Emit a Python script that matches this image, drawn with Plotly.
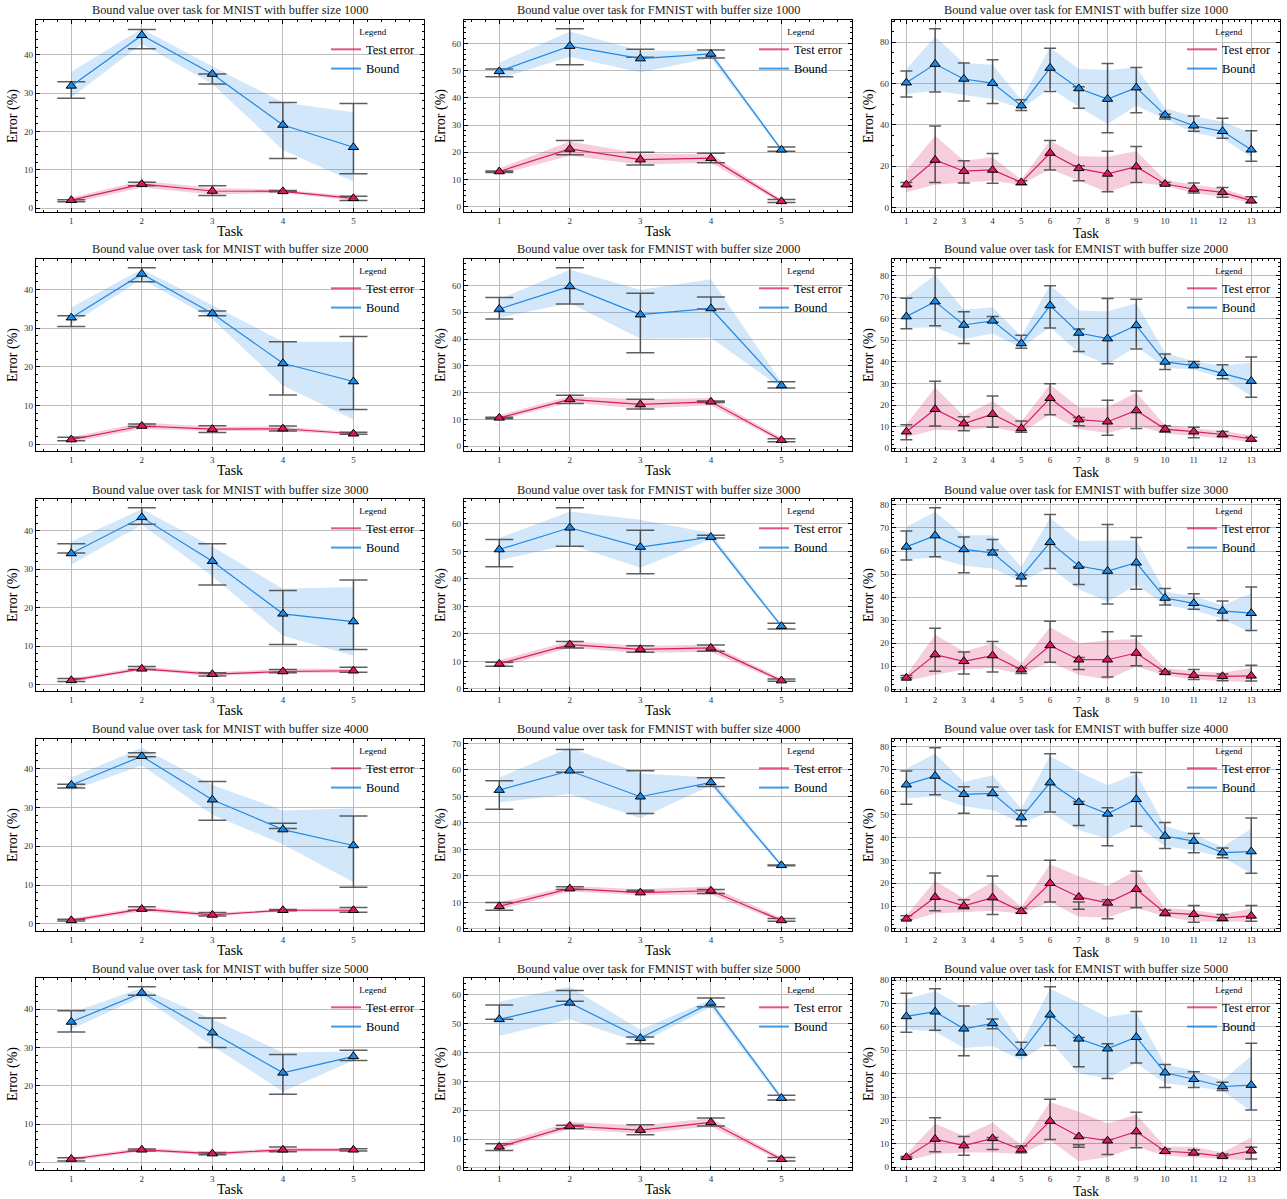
import plotly.graph_objects as go

# ---------------------------------------------------------------------------
# Data: error (%) per task, one row per replay-buffer size
# ---------------------------------------------------------------------------
BUFFER_SIZES = [1000, 2000, 3000, 4000, 5000]
DATASETS = ["MNIST", "FMNIST", "EMNIST"]
TASKS_MNIST = [1, 2, 3, 4, 5]
TASKS_FMNIST = [1, 2, 3, 4, 5]
TASKS_EMNIST = [1, 2, 3, 4, 5, 6, 7, 8, 9, 10, 11, 12, 13]
Y_TICK_STEP = {"MNIST": [10, 10, 10, 10, 10],
               "FMNIST": [10, 10, 10, 10, 10],
               "EMNIST": [20, 10, 10, 10, 10]}

# ---- MNIST ----------------------------------------------------------------
mnist_test_mean = [[2.1, 6.3, 4.5, 4.4, 2.6], [1.2, 4.7, 3.9, 4.0, 2.7], [1.1, 4.1, 2.7, 3.4, 3.6],
                   [0.9, 3.8, 2.3, 3.5, 3.5], [0.9, 3.3, 2.3, 3.3, 3.3]]
mnist_test_band_lo = [[1.3, 5.4, 3.6, 4.0, 2.0], [0.5, 3.9, 3.4, 3.4, 2.4], [0.6, 3.7, 2.2, 3.0, 3.1],
                      [0.4, 3.2, 1.9, 3.2, 3.0], [0.3, 2.9, 1.8, 2.8, 2.9]]
mnist_test_band_hi = [[2.8, 7.2, 5.3, 4.8, 3.2], [1.8, 5.6, 4.5, 4.6, 3.1], [1.6, 4.7, 3.2, 4.1, 4.1],
                      [1.4, 4.4, 2.8, 3.8, 4.1], [1.3, 3.9, 2.7, 3.8, 3.8]]
mnist_test_bar_lo = [[1.7, 5.9, 3.3, 4.3, 2.0], [0.9, 4.6, 3.0, 3.4, 2.6], [0.8, 3.9, 2.2, 3.1, 3.2],
                     [0.7, 3.5, 2.0, 3.4, 3.0], [0.4, 3.0, 2.0, 2.8, 3.0]]
mnist_test_bar_hi = [[2.2, 6.8, 5.9, 4.6, 3.1], [1.8, 5.2, 4.8, 4.7, 3.1], [1.6, 4.7, 3.1, 3.9, 4.5],
                     [1.2, 4.4, 2.9, 3.7, 4.2], [1.2, 3.5, 2.6, 4.0, 3.6]]
mnist_bound_mean = [[31.9, 45.1, 35.0, 21.7, 15.9], [32.7, 44.0, 33.8, 20.9, 16.2], [34.1, 43.5, 32.1, 18.4, 16.4],
                    [35.8, 43.2, 32.0, 24.3, 20.2], [36.7, 44.3, 33.9, 23.4, 27.7]]
mnist_bound_band_lo = [[28.9, 42.8, 32.4, 15.2, 7.0], [31.0, 42.7, 32.3, 15.2, 6.4], [31.2, 41.6, 28.2, 12.7, 7.5],
                       [34.3, 40.9, 28.1, 20.5, 10.7], [34.8, 43.3, 30.5, 18.5, 26.6]]
mnist_bound_band_hi = [[35.6, 46.8, 37.0, 27.6, 25.0], [35.3, 45.3, 35.9, 26.5, 26.5], [37.2, 45.6, 35.9, 24.9, 25.4],
                       [37.7, 45.4, 35.8, 29.2, 29.8], [39.1, 45.6, 37.4, 28.7, 29.0]]
mnist_bound_bar_lo = [[28.7, 41.6, 32.4, 13.0, 9.0], [30.4, 42.0, 33.2, 12.7, 9.0], [34.2, 41.7, 25.9, 10.4, 9.1],
                      [35.0, 43.1, 26.7, 24.6, 9.4], [34.1, 43.7, 30.0, 17.8, 26.6]]
mnist_bound_bar_hi = [[33.0, 46.6, 35.0, 27.6, 27.3], [33.2, 45.6, 34.4, 26.5, 27.8], [36.6, 46.0, 36.6, 24.5, 27.2],
                      [36.0, 44.1, 36.7, 25.9, 27.8], [39.6, 45.9, 37.7, 28.2, 29.3]]

# ---- FMNIST ---------------------------------------------------------------
fmnist_test_mean = [[12.9, 21.2, 17.3, 17.8, 1.9], [10.6, 17.5, 15.6, 16.6, 2.3], [9.1, 16.1, 14.4, 14.9, 3.0],
                    [8.5, 15.2, 13.7, 14.4, 3.2], [7.3, 14.5, 13.1, 15.8, 3.0]]
fmnist_test_band_lo = [[11.9, 18.7, 15.5, 16.1, 1.2], [9.7, 16.3, 14.0, 15.3, 1.5], [8.0, 14.9, 13.1, 13.4, 2.4],
                       [7.2, 14.1, 12.7, 13.0, 2.5], [6.3, 13.5, 11.8, 14.4, 2.3]]
fmnist_test_band_hi = [[14.1, 24.0, 19.5, 19.3, 2.7], [11.6, 18.7, 17.5, 18.0, 3.2], [10.4, 17.4, 15.6, 16.1, 3.8],
                       [10.0, 16.2, 15.0, 16.0, 4.1], [8.4, 16.0, 14.7, 17.2, 3.8]]
fmnist_test_bar_lo = [[12.5, 19.1, 15.3, 16.1, 1.5], [10.3, 16.0, 13.9, 16.3, 1.7], [8.2, 14.9, 13.3, 13.7, 2.8],
                      [7.0, 14.9, 14.0, 13.4, 2.9], [6.0, 13.6, 11.5, 14.5, 2.4]]
fmnist_test_bar_hi = [[13.1, 24.3, 20.0, 19.6, 2.6], [10.8, 19.0, 17.5, 16.9, 2.8], [9.7, 17.2, 15.7, 16.0, 3.6],
                      [10.0, 15.9, 14.6, 14.9, 3.9], [8.4, 14.8, 15.0, 17.3, 3.6]]
fmnist_bound_mean = [[49.8, 59.1, 54.5, 56.2, 20.9], [51.2, 59.6, 49.1, 51.4, 22.7], [50.7, 58.6, 51.6, 55.2, 22.8],
                     [52.4, 59.7, 49.9, 55.3, 24.0], [51.5, 57.2, 45.0, 57.2, 24.2]]
fmnist_bound_band_lo = [[47.1, 55.2, 49.5, 54.7, 20.3], [47.9, 53.4, 40.1, 40.5, 21.7], [46.8, 52.5, 44.1, 54.3, 22.1],
                        [47.7, 50.9, 41.8, 54.1, 23.3], [45.8, 51.5, 43.3, 55.7, 23.3]]
fmnist_bound_band_hi = [[53.0, 64.5, 57.4, 57.4, 21.5], [54.9, 65.8, 58.4, 62.3, 23.9], [54.9, 64.5, 61.5, 56.7, 23.6],
                        [57.2, 68.4, 58.7, 57.2, 24.7], [57.6, 62.8, 47.9, 58.4, 25.0]]
fmnist_bound_bar_lo = [[47.8, 52.2, 55.0, 54.7, 20.4], [47.5, 53.1, 34.9, 51.2, 21.7], [44.4, 51.9, 41.9, 54.9, 21.8],
                       [45.2, 59.1, 43.6, 53.8, 23.8], [51.5, 57.8, 43.0, 55.9, 23.5]]
fmnist_bound_bar_hi = [[50.7, 65.5, 57.9, 57.7, 21.9], [55.5, 66.6, 57.1, 55.7, 24.1], [54.3, 65.9, 57.7, 55.9, 23.9],
                       [55.9, 67.7, 59.7, 57.1, 24.1], [56.5, 61.5, 45.4, 58.9, 25.2]]

# ---- EMNIST ---------------------------------------------------------------
emnist_test_mean = [
    [11.1, 23.0, 17.6, 18.2, 12.2, 26.4, 19.0, 16.3, 19.8, 11.4, 9.0, 7.4, 3.4],
    [7.7, 18.1, 11.5, 15.8, 9.2, 23.2, 13.3, 12.3, 17.5, 8.9, 7.7, 6.4, 4.3],
    [4.9, 15.0, 12.1, 14.6, 8.5, 19.0, 12.8, 12.8, 15.7, 7.3, 6.1, 5.6, 5.8],
    [4.4, 13.9, 10.1, 13.7, 7.7, 20.0, 14.0, 11.4, 17.4, 7.0, 6.4, 4.7, 5.7],
    [4.2, 12.0, 9.2, 12.3, 7.5, 19.7, 13.1, 11.3, 15.2, 6.8, 6.1, 4.6, 7.0]]
emnist_test_band_lo = [
    [7.4, 11.1, 12.2, 13.0, 11.0, 18.7, 13.0, 7.4, 12.2, 10.6, 6.9, 5.2, 2.1],
    [5.1, 8.6, 8.1, 9.7, 7.1, 15.8, 8.9, 7.1, 10.4, 6.9, 5.8, 4.6, 2.8],
    [3.5, 6.3, 8.5, 9.2, 6.6, 11.7, 6.3, 4.2, 9.9, 5.9, 4.2, 3.5, 3.0],
    [3.1, 6.7, 7.4, 7.9, 6.7, 11.8, 5.3, 5.0, 9.3, 5.3, 3.4, 3.1, 3.1],
    [2.8, 5.6, 6.3, 6.3, 5.6, 11.5, 2.5, 4.2, 8.7, 4.9, 4.2, 3.5, 2.8]]
emnist_test_band_hi = [
    [17.9, 34.8, 22.7, 24.3, 13.5, 32.4, 24.8, 24.6, 27.2, 13.5, 11.0, 9.3, 4.8],
    [11.2, 28.1, 15.0, 21.9, 12.4, 29.6, 18.9, 18.9, 25.8, 10.7, 9.2, 8.0, 6.1],
    [6.2, 23.6, 16.4, 20.0, 11.4, 26.9, 20.0, 21.2, 21.8, 9.2, 7.8, 7.1, 9.2],
    [6.0, 21.0, 13.3, 20.6, 9.6, 28.3, 23.1, 18.8, 25.7, 9.2, 8.2, 6.4, 8.9],
    [5.6, 18.6, 13.4, 19.0, 9.6, 27.9, 23.7, 18.7, 22.5, 8.7, 8.7, 6.3, 12.7]]
emnist_test_bar_lo = [
    [10.3, 12.2, 11.9, 11.8, 11.1, 18.2, 13.0, 7.7, 12.2, 11.0, 7.1, 5.0, 2.3],
    [4.0, 10.3, 8.1, 9.7, 7.4, 15.5, 10.4, 6.1, 9.2, 7.4, 4.9, 5.5, 3.4],
    [5.0, 7.8, 6.6, 7.5, 6.8, 11.7, 8.5, 5.3, 10.2, 6.6, 4.2, 3.7, 3.5],
    [4.1, 7.9, 8.8, 6.3, 7.0, 11.8, 8.6, 4.4, 9.3, 5.8, 2.9, 3.6, 3.4],
    [3.8, 6.6, 5.1, 7.5, 6.1, 11.8, 8.5, 5.4, 8.3, 5.9, 5.4, 4.2, 3.5]]
emnist_test_bar_hi = [
    [12.1, 39.5, 22.7, 26.2, 13.0, 32.4, 20.3, 27.2, 29.5, 12.2, 11.9, 9.7, 5.3],
    [10.9, 31.1, 14.6, 24.2, 12.6, 29.9, 14.3, 22.2, 26.5, 10.4, 9.7, 7.8, 5.1],
    [5.9, 26.5, 16.1, 20.7, 9.2, 29.5, 13.8, 24.9, 23.1, 7.8, 8.5, 6.6, 10.4],
    [5.8, 24.5, 12.8, 23.2, 8.9, 30.1, 11.8, 12.8, 25.3, 8.2, 10.2, 6.3, 10.2],
    [4.5, 21.1, 13.1, 12.7, 9.0, 29.0, 9.6, 11.8, 23.5, 7.7, 7.3, 5.6, 8.5]]
emnist_bound_mean = [
    [60.4, 69.4, 62.2, 60.2, 49.3, 67.5, 57.6, 52.5, 58.0, 44.8, 39.6, 36.9, 28.0],
    [61.0, 67.9, 57.1, 59.0, 48.5, 66.1, 53.4, 50.8, 56.9, 40.0, 38.3, 34.8, 31.1],
    [61.8, 66.7, 60.7, 59.2, 48.8, 63.8, 53.5, 51.3, 54.9, 39.6, 37.3, 34.0, 33.0],
    [63.2, 67.0, 59.0, 59.4, 48.8, 64.1, 55.5, 50.4, 56.8, 40.7, 38.5, 33.4, 33.9],
    [64.5, 66.5, 59.2, 61.5, 49.0, 65.2, 54.9, 50.7, 55.6, 40.4, 37.6, 34.5, 35.1]]
emnist_bound_band_lo = [
    [54.9, 56.5, 54.6, 52.5, 47.7, 57.8, 48.8, 40.4, 49.3, 42.8, 36.2, 33.5, 24.3],
    [55.7, 56.1, 50.6, 53.1, 46.5, 56.1, 44.2, 38.8, 47.2, 37.3, 36.5, 32.4, 24.2],
    [56.3, 57.2, 53.6, 52.4, 46.7, 52.9, 43.4, 38.0, 45.2, 36.6, 34.4, 30.5, 24.4],
    [57.1, 58.1, 53.7, 52.0, 46.4, 51.2, 43.2, 39.6, 45.4, 36.2, 34.5, 31.5, 24.2],
    [58.9, 58.0, 51.0, 51.8, 45.8, 53.8, 40.1, 38.0, 44.4, 35.9, 34.5, 32.7, 23.9]]
emnist_bound_band_hi = [
    [67.0, 82.6, 69.9, 69.1, 52.0, 77.5, 67.0, 66.5, 67.8, 48.1, 44.0, 41.7, 35.9],
    [70.2, 80.2, 64.1, 65.3, 51.8, 75.6, 63.8, 63.3, 67.2, 44.2, 40.2, 38.3, 39.6],
    [70.5, 76.9, 66.9, 66.9, 53.2, 74.5, 64.4, 64.7, 64.7, 42.4, 40.2, 36.6, 41.6],
    [70.2, 76.8, 64.4, 67.3, 52.7, 75.8, 68.8, 62.9, 68.0, 45.0, 41.5, 35.9, 43.9],
    [71.8, 75.4, 68.3, 71.1, 52.8, 76.3, 70.4, 64.1, 66.2, 43.9, 41.5, 37.2, 47.6]]
emnist_bound_bar_lo = [
    [53.5, 55.9, 51.5, 50.4, 46.9, 56.2, 48.1, 36.2, 45.9, 42.8, 36.9, 33.5, 22.4],
    [55.4, 56.7, 48.5, 58.4, 46.3, 55.7, 44.8, 39.1, 46.0, 36.5, 38.8, 32.2, 23.6],
    [56.1, 57.5, 50.6, 60.4, 44.8, 52.4, 45.5, 37.0, 43.4, 36.6, 34.7, 29.8, 25.5],
    [54.6, 58.8, 50.7, 58.5, 45.1, 51.2, 45.3, 36.4, 45.0, 35.2, 33.4, 31.2, 24.4],
    [57.7, 58.6, 47.7, 59.2, 47.9, 52.1, 43.0, 37.9, 44.6, 34.1, 34.1, 32.8, 24.4]]
emnist_bound_bar_hi = [
    [66.0, 86.5, 69.9, 71.5, 52.2, 77.1, 58.5, 69.7, 67.8, 45.2, 44.3, 43.2, 37.2],
    [69.5, 83.6, 63.2, 61.0, 52.3, 75.2, 55.2, 69.3, 69.0, 43.7, 40.2, 38.7, 42.3],
    [68.7, 78.8, 66.1, 65.0, 49.6, 75.9, 53.2, 71.5, 65.9, 43.7, 41.4, 38.3, 44.4],
    [69.2, 79.4, 62.3, 62.2, 52.0, 76.8, 55.8, 53.1, 68.5, 46.6, 41.8, 35.5, 48.6],
    [74.4, 76.3, 68.9, 63.4, 53.4, 77.2, 55.5, 52.8, 66.6, 43.9, 40.8, 36.3, 53.0]]

# Lookup table assembled from the arrays above
TABLE = {
    "MNIST": dict(tasks=TASKS_MNIST,
                  test=(mnist_test_mean, mnist_test_band_lo, mnist_test_band_hi, mnist_test_bar_lo, mnist_test_bar_hi),
                  bound=(mnist_bound_mean, mnist_bound_band_lo, mnist_bound_band_hi, mnist_bound_bar_lo, mnist_bound_bar_hi)),
    "FMNIST": dict(tasks=TASKS_FMNIST,
                   test=(fmnist_test_mean, fmnist_test_band_lo, fmnist_test_band_hi, fmnist_test_bar_lo, fmnist_test_bar_hi),
                   bound=(fmnist_bound_mean, fmnist_bound_band_lo, fmnist_bound_band_hi, fmnist_bound_bar_lo, fmnist_bound_bar_hi)),
    "EMNIST": dict(tasks=TASKS_EMNIST,
                   test=(emnist_test_mean, emnist_test_band_lo, emnist_test_band_hi, emnist_test_bar_lo, emnist_test_bar_hi),
                   bound=(emnist_bound_mean, emnist_bound_band_lo, emnist_bound_band_hi, emnist_bound_bar_lo, emnist_bound_bar_hi)),
}

# ---------------------------------------------------------------------------
# Styling and grid geometry (pixels)
# ---------------------------------------------------------------------------
W, H = 1287, 1199
PLOT_LEFT = [36, 464, 892]
PLOT_TOP = [20, 259, 499, 739, 978]
PLOT_W, PLOT_H = 388, 192
SERIF = "Liberation Serif, DejaVu Serif, serif"
COLORS = {"test": "#D81B60", "bound": "#1E88E5"}
FILLS = {"test": "rgba(216,27,96,0.22)", "bound": "rgba(30,136,229,0.2)"}
LEGEND_LINES = {"test": "rgba(216,27,96,0.75)", "bound": "rgba(30,136,229,0.85)"}
LABELS = {"test": "Test error", "bound": "Bound"}
ERR_COLOR = "rgba(55,55,55,0.8)"
GRID_COLOR = "#bdbdbd"

fig = go.Figure()
annotations = []
layout_axes = {}

for r, buf in enumerate(BUFFER_SIZES):
    for c, name in enumerate(DATASETS):
        k = r * 3 + c
        sfx = "" if k == 0 else str(k + 1)
        xref, yref = "x" + sfx, "y" + sfx
        legend_id = "legend" + sfx
        tasks = TABLE[name]["tasks"]
        cap = 14 if len(tasks) <= 5 else 6

        lows, highs = [], []
        for key in ("test", "bound"):
            mean, blo, bhi, elo, ehi = (a[r] for a in TABLE[name][key])
            lows += blo + elo + mean
            highs += bhi + ehi + mean

        # shaded spread bands
        for key in ("test", "bound"):
            mean, blo, bhi, elo, ehi = (a[r] for a in TABLE[name][key])
            fig.add_trace(go.Scatter(
                x=tasks + tasks[::-1], y=bhi + blo[::-1], fill="toself",
                fillcolor=FILLS[key], line=dict(width=0), mode="lines",
                hoverinfo="skip", showlegend=False, xaxis=xref, yaxis=yref))

        # min/max whiskers
        for key in ("test", "bound"):
            mean, blo, bhi, elo, ehi = (a[r] for a in TABLE[name][key])
            mid = [(a + b) / 2 for a, b in zip(elo, ehi)]
            half = [(b - a) / 2 for a, b in zip(elo, ehi)]
            fig.add_trace(go.Scatter(
                x=tasks, y=mid, mode="markers", marker=dict(size=1, opacity=0),
                error_y=dict(type="data", array=half, symmetric=True, color=ERR_COLOR,
                             thickness=1.5, width=cap),
                hoverinfo="skip", showlegend=False, xaxis=xref, yaxis=yref))

        # mean curves with triangle markers
        for key in ("test", "bound"):
            mean = TABLE[name][key][0][r]
            fig.add_trace(go.Scatter(
                x=tasks, y=mean, mode="lines+markers", name=LABELS[key],
                line=dict(color=COLORS[key], width=1.2),
                marker=dict(symbol="triangle-up", size=9, color=COLORS[key],
                            line=dict(color="black", width=1)),
                showlegend=False, xaxis=xref, yaxis=yref))

        # legend entries
        for key in ("test", "bound"):
            fig.add_trace(go.Scatter(
                x=[None], y=[None], mode="lines", name=LABELS[key],
                line=dict(color=LEGEND_LINES[key], width=2),
                legend=legend_id, showlegend=True, xaxis=xref, yaxis=yref))

        lo, hi = min(lows), max(highs)
        pad = 0.05 * (hi - lo)
        step = Y_TICK_STEP[name][r]

        x0 = PLOT_LEFT[c] / W
        x1 = (PLOT_LEFT[c] + PLOT_W) / W
        y1 = 1 - PLOT_TOP[r] / H
        y0 = 1 - (PLOT_TOP[r] + PLOT_H) / H

        common = dict(showline=True, linecolor="black", linewidth=1.3, mirror="allticks",
                      ticks="inside", ticklen=4, tickwidth=1, tickcolor="black",
                      showgrid=True, gridcolor=GRID_COLOR, gridwidth=1.4, zeroline=False,
                      tickfont=dict(family=SERIF, size=9, color="#333"),
                      automargin=False)
        layout_axes["xaxis" + sfx] = dict(
            common, domain=[x0, x1], anchor=yref, range=[0.5, len(tasks) + 1],
            tickmode="array", tickvals=tasks,
            minor=dict(tickmode="linear", tick0=0, dtick=0.2, ticks="inside", ticklen=2,
                       tickcolor="black", showgrid=False),
            title=dict(text="Task", font=dict(family=SERIF, size=14, color="black"), standoff=1))
        layout_axes["yaxis" + sfx] = dict(
            common, domain=[y0, y1], anchor=xref, range=[lo - pad, hi + pad],
            tickmode="linear", tick0=0, dtick=step,
            minor=dict(tickmode="linear", tick0=0, dtick=step / (4 if step == 20 else 5),
                       ticks="inside", ticklen=2, tickcolor="black", showgrid=False),
            title=dict(text="Error (%)", font=dict(family=SERIF, size=14, color="black"), standoff=3))

        layout_axes[legend_id] = dict(
            x=(PLOT_LEFT[c] + 290) / W, y=1 - (PLOT_TOP[r] + 3) / H,
            xanchor="left", yanchor="top", bgcolor="rgba(0,0,0,0)",
            font=dict(family=SERIF, size=12.5, color="black"),
            title=dict(text="Legend", side="top center", font=dict(family=SERIF, size=9, color="black")),
            itemwidth=30, tracegroupgap=0)

        annotations.append(dict(
            text=f"Bound value over task for {name} with buffer size {buf}",
            x=(PLOT_LEFT[c] + PLOT_W / 2) / W, y=1 - (PLOT_TOP[r] - 9.5) / H,
            xref="paper", yref="paper", xanchor="center", yanchor="middle",
            showarrow=False, font=dict(family=SERIF, size=12.3, color="#222")))

fig.update_layout(
    width=W, height=H, margin=dict(l=0, r=0, t=0, b=0),
    paper_bgcolor="white", plot_bgcolor="white",
    annotations=annotations, **layout_axes)

fig.write_html("out.html")
